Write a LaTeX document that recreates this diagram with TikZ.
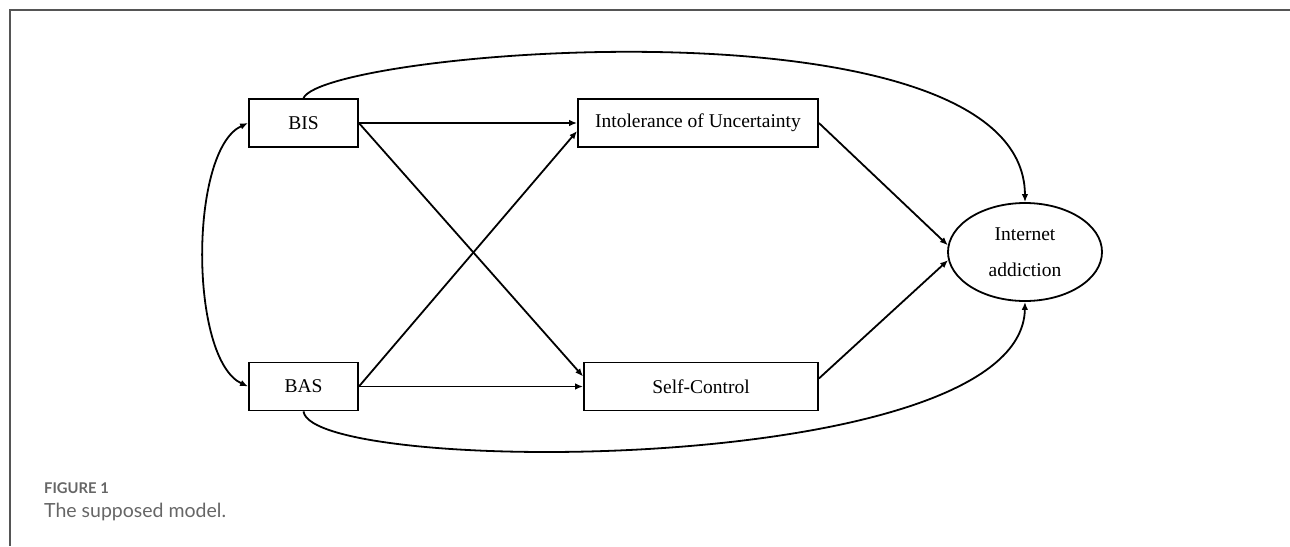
\documentclass[tikz,border=0pt]{standalone}
\usepackage{fontspec}
\setmainfont{Liberation Serif}
\newfontfamily\capfont{Lato}
\usetikzlibrary{arrows.meta,shapes.geometric}
\definecolor{framegray}{HTML}{555555}
\definecolor{capgray}{HTML}{666666}
\begin{document}
\begin{tikzpicture}[x=1pt,y=-1pt,
  box/.style={draw,line width=1.8pt,minimum height=48pt,inner sep=0pt,font=\fontsize{19.5}{23}\selectfont},
  oval/.style={draw,ellipse,line width=1.8pt,minimum width=154pt,minimum height=98pt,inner sep=0pt,align=center,font=\fontsize{19.5}{36}\selectfont},
  conn/.style={line width=1.8pt,-{Latex[length=8pt,width=6.5pt]}},
  biconn/.style={line width=1.8pt,{Latex[length=8pt,width=6.5pt]}-{Latex[length=8pt,width=6.5pt]}},
  captitle/.style={anchor=base west,inner sep=0pt,text=capgray,font=\capfont\bfseries\fontsize{14.8}{17}\selectfont},
  captext/.style={anchor=base west,inner sep=0pt,text=capgray,font=\capfont\fontsize{19.5}{23}\selectfont}]
\useasboundingbox (0,0) rectangle (1290,546);
\draw[framegray,line width=1.5pt] (1290,10) -- (10,10) -- (10,546);

\node[box,minimum width=109pt] (bis) at (303.5,123) {BIS};
\node[box,minimum width=109pt] (bas) at (303.5,386.5) {BAS};
\node[box,minimum width=240pt] (iou) at (698,123) {Intolerance of Uncertainty};
\node[box,minimum width=234pt] (sc) at (701,386.5) {Self-Control};
\node[oval] (ia) at (1025,252) {Internet\\addiction};

\draw[conn] (bis.east) -- (iou.west);
\draw[conn] (bis.east) -- ([yshift=10pt]sc.west);
\draw[conn] (bas.east) -- (sc.west);
\draw[conn] (bas.east) -- ([yshift=-8pt]iou.west);
\draw[conn] (iou.east) -- (ia.175);
\draw[conn] ([yshift=8pt]sc.east) -- (ia.186);
\draw[conn] (bis.north) .. controls (325,50) and (1024,-8) .. (ia.north);
\draw[conn] (bas.south) .. controls (312,476) and (1022,478) .. (ia.south);
\draw[biconn] (bis.west) .. controls (189,150) and (189,359) .. (bas.west);

\node[captitle] (fig) at (44,493) {FIGURE 1};
\node[captext] (cap) at (44,517) {The supposed model.};
\end{tikzpicture}
\end{document}
